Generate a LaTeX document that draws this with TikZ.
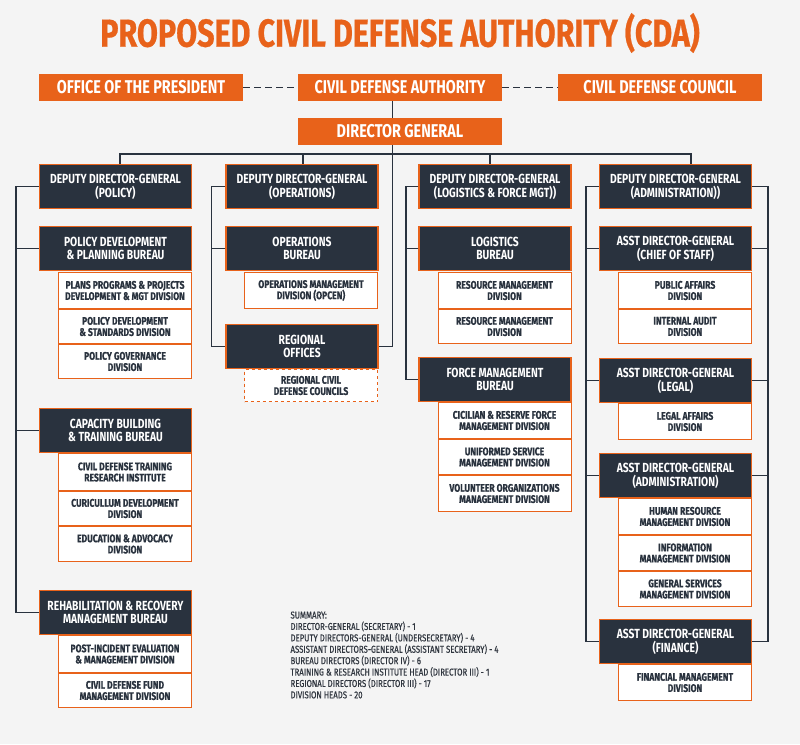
\documentclass[tikz,border=0pt]{standalone}
\usepackage{fontspec}
\setmainfont{Fira Sans}[FakeStretch=0.78]
\newfontfamily\heavyfam{Fira Sans}[FakeStretch=0.78, BoldFeatures={FakeBold=0.6}]
\newfontfamily\sumfam{Fira Sans}[FakeStretch=0.78, FakeBold=0.5]
\usepackage{tikz}
\definecolor{cdaorange}{HTML}{E8621A}
\definecolor{cdanavy}{HTML}{29323E}
\definecolor{cdabg}{HTML}{F4F4F4}
\definecolor{cdatext}{HTML}{30363F}

\begin{document}
\begin{tikzpicture}[x=1pt,y=-1pt,
  topbox/.style={fill=cdaorange, text=white, minimum width=204, minimum height=27, inner sep=0, font=\fontsize{18.5}{20}\selectfont\bfseries},
  headbox/.style={fill=cdanavy, draw=cdaorange, line width=1.2pt, text=white, minimum width=152, minimum height=44, inner sep=0, align=center, font=\fontsize{13.2}{13.8}\selectfont\bfseries},
  divbox/.style={fill=white, draw=cdaorange, line width=1pt, text=cdanavy, minimum width=133, inner sep=0, align=center, font=\fontsize{11}{11.2}\selectfont\heavyfam\bfseries},
  link/.style={draw=cdanavy, line width=1.5pt}]
  \fill[cdabg] (0,0) rectangle (800,744);
  \node[text=cdaorange, font=\fontsize{39}{41}\selectfont\heavyfam\bfseries] (title) at (400,33) {PROPOSED CIVIL DEFENSE AUTHORITY (CDA)};

  % top row
  \node[topbox] (pres) at (141,87.5) {OFFICE OF THE PRESIDENT};
  \node[topbox] (cda) at (400,87.5) {CIVIL DEFENSE AUTHORITY};
  \node[topbox] (cdc) at (660,87.5) {CIVIL DEFENSE COUNCIL};
  \node[topbox] (dg) at (400,131.5) {DIRECTOR GENERAL};

  % policy
  \node[divbox, minimum height=36] (pdb1) at (125,290.5) {PLANS PROGRAMS \& PROJECTS\\DEVELOPMENT \& MGT DIVISION};
  \node[divbox, minimum height=34] (pdb2) at (125,326.5) {POLICY DEVELOPMENT\\\& STANDARDS DIVISION};
  \node[divbox, minimum height=34] (pdb3) at (125,361.5) {POLICY GOVERNANCE\\DIVISION};
  \node[divbox, minimum height=37] (cbb1) at (125,472) {CIVIL DEFENSE TRAINING\\RESEARCH INSTITUTE};
  \node[divbox, minimum height=34] (cbb2) at (125,508.5) {CURICULLUM DEVELOPMENT\\DIVISION};
  \node[divbox, minimum height=35] (cbb3) at (125,544) {EDUCATION \& ADVOCACY\\DIVISION};
  \node[divbox, minimum height=37] (rrb1) at (125,654) {POST-INCIDENT EVALUATION\\\& MANAGEMENT DIVISION};
  \node[divbox, minimum height=34] (rrb2) at (125,690.5) {CIVIL DEFENSE FUND\\MANAGEMENT DIVISION};
  \node[headbox] (ddgp) at (115.5,186.5) {DEPUTY DIRECTOR-GENERAL\\(POLICY)};
  \node[headbox] (pdb) at (115.5,248.5) {POLICY DEVELOPMENT\\\& PLANNING BUREAU};
  \node[headbox] (cbb) at (115.5,430.5) {CAPACITY BUILDING\\\& TRAINING BUREAU};
  \node[headbox] (rrb) at (115.5,612.5) {REHABILITATION \& RECOVERY\\MANAGEMENT BUREAU};

  % operations
  \node[divbox, minimum height=36] (opb1) at (311,290.5) {OPERATIONS MANAGEMENT\\DIVISION (OPCEN)};
  \node[divbox, minimum height=32, dashed] (rgo1) at (311,385.5) {REGIONAL CIVIL\\DEFENSE COUNCILS};
  \node[headbox] (ddgo) at (302,186.5) {DEPUTY DIRECTOR-GENERAL\\(OPERATIONS)};
  \node[headbox] (opb) at (302,248.5) {OPERATIONS\\BUREAU};
  \node[headbox] (rgo) at (302,346.5) {REGIONAL\\OFFICES};

  % logistics
  \node[divbox, minimum height=36] (lgb1) at (504.5,290.5) {RESOURCE MANAGEMENT\\DIVISION};
  \node[divbox, minimum height=34] (lgb2) at (504.5,326.5) {RESOURCE MANAGEMENT\\DIVISION};
  \node[divbox, minimum height=36] (fmb1) at (504.5,420.5) {CICILIAN \& RESERVE FORCE\\MANAGEMENT DIVISION};
  \node[divbox, minimum height=35] (fmb2) at (504.5,457) {UNIFORMED SERVICE\\MANAGEMENT DIVISION};
  \node[divbox, minimum height=36] (fmb3) at (504.5,493.5) {VOLUNTEER ORGANIZATIONS\\MANAGEMENT DIVISION};
  \node[headbox] (ddgl) at (495,186.5) {DEPUTY DIRECTOR-GENERAL\\(LOGISTICS \& FORCE MGT))};
  \node[headbox] (lgb) at (495,248.5) {LOGISTICS\\BUREAU};
  \node[headbox] (fmb) at (495,379.5) {FORCE MANAGEMENT\\BUREAU};

  % administration
  \node[divbox, minimum height=36] (cos1) at (685,290.5) {PUBLIC AFFAIRS\\DIVISION};
  \node[divbox, minimum height=34] (cos2) at (685,326.5) {INTERNAL AUDIT\\DIVISION};
  \node[divbox, minimum height=36] (leg1) at (685,421.5) {LEGAL AFFAIRS\\DIVISION};
  \node[divbox, minimum height=36] (adm1) at (685,516.5) {HUMAN RESOURCE\\MANAGEMENT DIVISION};
  \node[divbox, minimum height=35] (adm2) at (685,553) {INFORMATION\\MANAGEMENT DIVISION};
  \node[divbox, minimum height=35] (adm3) at (685,589) {GENERAL SERVICES\\MANAGEMENT DIVISION};
  \node[divbox, minimum height=36] (fin1) at (685,682.5) {FINANCIAL MANAGEMENT\\DIVISION};
  \node[headbox] (ddga) at (675.5,186.5) {DEPUTY DIRECTOR-GENERAL\\(ADMINISTRATION))};
  \node[headbox] (cos) at (675.5,248.5) {ASST DIRECTOR-GENERAL\\(CHIEF OF STAFF)};
  \node[headbox] (leg) at (675.5,380.5) {ASST DIRECTOR-GENERAL\\(LEGAL)};
  \node[headbox] (adm) at (675.5,475.5) {ASST DIRECTOR-GENERAL\\(ADMINISTRATION)};
  \node[headbox] (fin) at (675.5,641.5) {ASST DIRECTOR-GENERAL\\(FINANCE)};

  \node[anchor=north west, align=left, text=cdatext, font=\fontsize{10}{11.4}\selectfont\sumfam] (sum) at (287,608) {SUMMARY:\\DIRECTOR-GENERAL (SECRETARY) - 1\\DEPUTY DIRECTORS-GENERAL (UNDERSECRETARY) - 4\\ASSISTANT DIRECTORS-GENERAL (ASSISTANT SECRETARY) - 4\\BUREAU DIRECTORS (DIRECTOR IV) - 6\\TRAINING \& RESEARCH INSTITUTE HEAD (DIRECTOR III) - 1\\REGIONAL DIRECTORS (DIRECTOR III) - 17\\DIVISION HEADS - 20};

  % connectors
  \draw[link, dash pattern=on 7pt off 4pt] (pres) -- (cda);
  \draw[link, dash pattern=on 7pt off 4pt] (cda) -- (cdc);
  \draw[link] ([xshift=-7.5]cda.south) -- ([xshift=-7.5]dg.north);
  \draw[link] ([xshift=-7.5]dg.south) |- (rgo.east);
  \draw[link] ([xshift=4.5]ddgp.north) -- ++(0,-10) -| ([xshift=15.5]ddga.north);
  \draw[link] ([xshift=1]ddgo.north) -- ++(0,-10);
  \draw[link] ([xshift=-5]ddgl.north) -- ++(0,-10);

  \draw[link] (ddgp.west) -- ++(-23,0) |- (rrb.west);
  \draw[link] (pdb.west) -- ++(-23,0);
  \draw[link] (cbb.west) -- ++(-23,0);
  \draw[link] (ddgo.west) -- ++(-14,0) |- (rgo.west);
  \draw[link] (opb.west) -- ++(-14,0);
  \draw[link] (ddgl.west) -- ++(-12.5,0) |- (fmb.west);
  \draw[link] (lgb.west) -- ++(-12.5,0);
  \draw[link] (ddga.west) -- ++(-13,0) |- (fin.west);
  \draw[link] (ddga.east) -- ++(16,0) |- (fin.east);
  \foreach \n in {cos,leg,adm}{
    \draw[link] (\n.west) -- ++(-13,0);
    \draw[link] (\n.east) -- ++(16,0);
  }
\end{tikzpicture}
\end{document}
